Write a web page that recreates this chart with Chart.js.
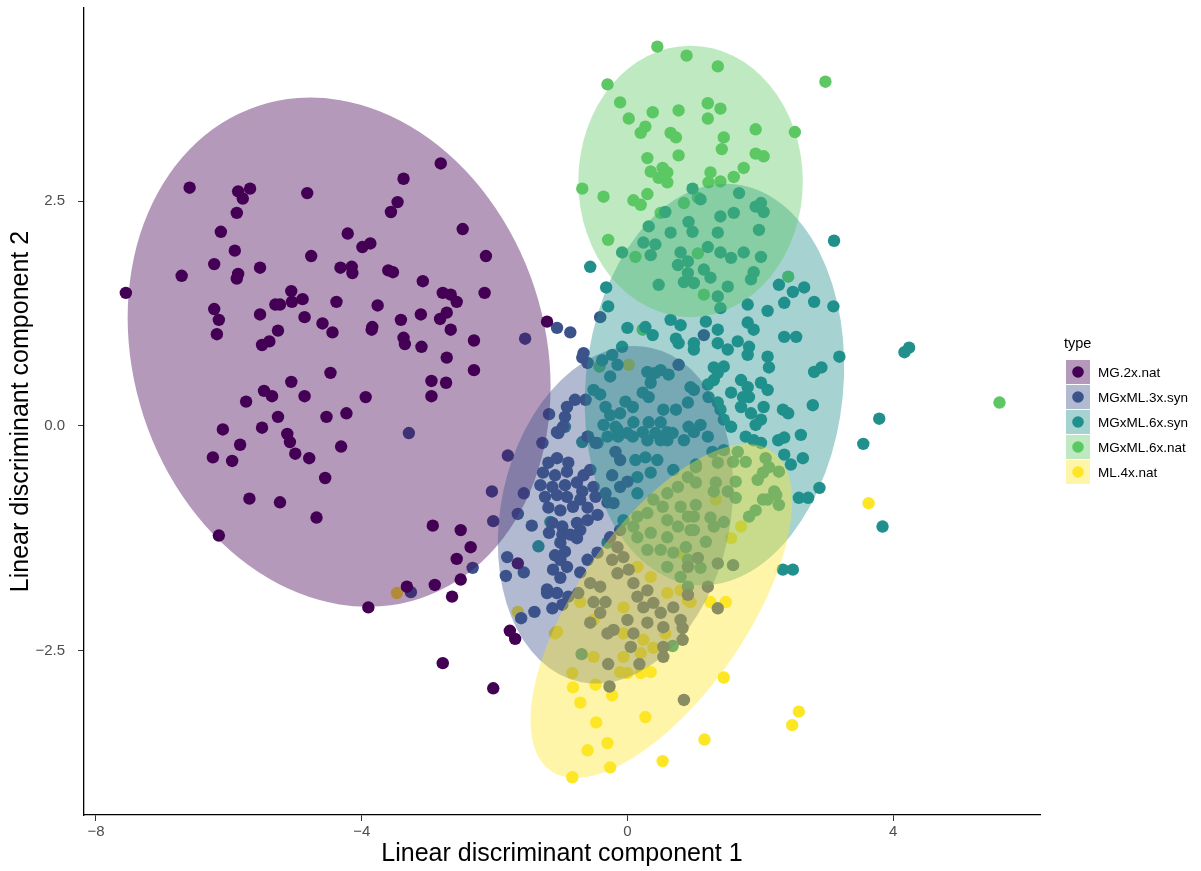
<!DOCTYPE html>
<html>
<head>
<meta charset="utf-8">
<title>LDA</title>
<script src="https://cdn.jsdelivr.net/npm/chart.js@4.4.0/dist/chart.umd.min.js"></script>
<style>
  html, body { margin: 0; padding: 0; background: #fff; }
  #grafico { display: block; }
</style>
</head>
<body>
<canvas id="grafico" width="1201" height="871"></canvas>
<script>
// grupos (legenda "type")
const grupos = ['MG.2x.nat', 'MGxML.3x.syn', 'MGxML.6x.syn', 'MGxML.6x.nat', 'ML.4x.nat'];
const cores = ['#440154', '#3B528B', '#21908C', '#5DC863', '#FDE725'];

// ticks dos eixos
const ticksX = [-8, -4, 0, 4];
const ticksY = [-2.5, 0, 2.5];

// pontos [LD1, LD2]
const mg2xNat = [
  [-6.59,2.65],[-5.86,2.61],[-5.68,2.64],[-5.79,2.53],[-4.82,2.59],[-5.88,2.37],[-6.12,2.16],[-5.91,1.95],
  [-4.76,1.89],[-6.22,1.80],[-6.71,1.67],[-5.53,1.76],[-5.86,1.69],[-5.88,1.64],[-7.55,1.48],[-5.06,1.50],
  [-4.89,1.41],[-5.05,1.38],[-5.30,1.35],[-5.23,1.35],[-6.22,1.30],[-6.15,1.18],[-5.53,1.24],[-4.86,1.21],
  [-4.59,1.14],[-6.18,1.02],[-5.26,1.06],[-5.50,0.90],[-5.39,0.94],[-4.44,1.04],[-4.47,0.59],[-5.06,0.49],
  [-5.47,0.39],[-5.35,0.33],[-5.74,0.27],[-4.86,0.33],[-5.26,0.10],[-4.53,0.10],[-6.09,-0.04],[-5.50,-0.02],
  [-5.12,-0.09],[-5.08,-0.18],[-5.83,-0.21],[-6.24,-0.35],[-5.95,-0.39],[-5.00,-0.31],[-4.79,-0.36],[-4.55,-0.58],
  [-5.69,-0.81],[-5.23,-0.85],[-4.68,-1.02],[-6.15,-1.22],[-2.81,2.92],[-3.37,2.75],[-3.46,2.49],[-3.56,2.38],
  [-4.21,2.14],[-2.48,2.19],[-3.99,1.99],[-3.87,2.03],[-2.13,1.89],[-4.32,1.76],[-4.15,1.77],[-4.14,1.70],
  [-3.60,1.73],[-3.53,1.71],[-3.08,1.61],[-2.15,1.48],[-2.78,1.48],[-2.66,1.46],[-2.57,1.38],[-4.38,1.38],
  [-3.76,1.34],[-2.72,1.26],[-2.82,1.19],[-3.11,1.24],[-3.41,1.18],[-3.84,1.10],[-3.85,1.07],[-2.66,1.07],
  [-3.37,0.98],[-3.35,0.91],[-3.10,0.88],[-2.31,0.95],[-2.72,0.76],[-2.31,0.62],[-2.95,0.50],[-2.73,0.48],
  [-2.95,0.33],[-3.94,0.32],[-4.23,0.14],[-1.21,1.16],[-4.31,-0.23],[-2.93,-1.11],[-2.51,-1.16],[-2.36,-1.35],
  [-2.57,-1.48],[-2.51,-1.71],[-2.90,-1.77],[-3.32,-1.79],[-2.64,-1.90],[-3.90,-2.02],[-1.77,-2.28],[-1.69,-2.37],
  [-2.78,-2.64],[-1.65,-1.53],[-2.02,-2.92]
];

const mgxml3xSyn = [
  [-1.06,1.09],[-1.54,0.97],[-1.18,0.13],[-3.29,-0.08],[-2.33,-1.58],[-3.26,-1.85],[-1.80,-0.33],[-2.04,-0.73],
  [-2.02,-1.06],[-1.56,-0.75],[-1.65,-0.98],[-1.28,-0.19],[-1.06,-0.07],[-1.44,-1.11],[-1.18,-1.19],[-1.81,-1.46],
  [-1.83,-1.67],[-1.56,-1.63],[-1.21,-1.82],[-1.40,-2.07],[-1.60,-2.14],[-1.13,-2.03],[-0.86,1.04],[-0.41,1.21],
  [-0.66,0.81],[-0.68,0.76],[-0.60,0.70],[1.15,1.01],[0.77,0.68],[-0.79,0.29],[-0.63,0.29],[-0.94,0.10],
  [-0.91,0.21],[-1.19,-0.41],[-1.06,-0.36],[-0.89,-0.41],[-0.91,-0.51],[-1.09,-0.55],[-1.27,-0.52],[-1.31,-0.66],
  [-1.13,-0.68],[-0.94,-0.66],[-0.76,-0.63],[-0.66,-0.55],[-0.56,-0.49],[-0.68,-0.73],[-0.51,-0.68],[-0.48,-0.79],
  [-0.33,-0.75],[-0.30,-0.85],[-0.71,-0.82],[-0.91,-0.79],[-1.06,-0.77],[-1.24,-0.79],[-1.19,-0.91],[-1.01,-0.94],
  [-0.82,-0.90],[-0.60,-0.91],[-0.45,-0.99],[-0.60,-1.05],[-0.76,-1.08],[-0.98,-1.12],[-1.13,-1.08],[-0.98,-1.21],
  [-0.86,-1.21],[-0.71,-1.16],[-0.76,-1.25],[-1.01,-1.30],[-0.94,-1.40],[-1.09,-1.44],[-1.01,-1.49],[-1.12,-1.60],
  [-0.91,-1.57],[-1.01,-1.69],[-1.21,-1.86],[-1.06,-1.86],[-0.89,-1.90],[-0.98,-1.99],[-1.04,-0.08],[-0.97,-0.01],
  [-0.60,-0.12],[-0.48,-0.19],[-0.23,-0.55],[-0.21,-0.86],[-0.11,-0.68],[0.00,-0.62],[-0.18,-0.29],[-0.11,-0.38],
  [-0.71,-1.63],[-0.56,-1.75],[-0.74,-1.86],[-0.51,-1.96],[-0.33,-1.96],[-0.41,-1.79],[-0.15,-1.64],[-0.23,-1.49],
  [-0.06,-1.46],[-0.15,-1.35],[-0.26,-1.24],[-0.11,-1.16],[-0.45,-1.41],[-0.60,-1.49],[0.02,-1.60],[0.09,-1.75],
  [0.30,-1.83],[0.15,-1.90],[0.24,-2.02],[0.39,-1.97],[0.50,-2.08],[0.69,-2.02],[0.80,-2.16],[0.54,-2.24],
  [0.30,-2.19],[0.00,-2.16],[-0.21,-2.27],[-0.30,-2.31],[-0.56,-2.19],[-0.41,-2.08],[0.09,-2.31],[1.06,-1.47],
  [1.36,-1.53],[1.59,-1.55],[0.91,-1.57],[1.21,-1.79],[0.91,-1.88],[1.36,-2.03],[0.83,-2.25],[0.83,-2.38],
  [0.05,-2.46],[0.54,-2.46],[-0.29,-2.65],[0.18,-2.65],[0.54,-2.57],[-0.27,-2.90],[0.85,-3.05]
];

const mgxml6xSyn = [
  [4.17,0.82],[4.24,0.87],[3.19,0.77],[3.79,0.08],[3.55,-0.20],[3.84,-1.12],[-1.16,-1.07],[-1.34,-1.34],
  [0.98,2.64],[0.57,2.38],[0.65,2.15],[0.32,2.22],[0.92,2.27],[0.98,2.16],[1.10,2.52],[1.40,2.33],
  [1.60,2.37],[1.68,2.59],[1.93,2.44],[2.01,2.48],[2.05,2.38],[1.98,2.18],[1.36,2.15],[0.24,2.04],
  [3.11,2.06],[0.42,2.02],[0.35,1.90],[-0.08,1.93],[0.80,1.93],[0.91,1.83],[0.76,1.79],[1.21,1.99],
  [1.40,1.93],[1.56,1.87],[1.75,1.93],[2.01,1.88],[0.91,1.70],[1.15,1.74],[1.25,1.65],[0.85,1.60],
  [1.00,1.59],[1.51,1.55],[1.86,1.63],[1.90,1.71],[1.36,1.44],[1.40,1.31],[1.81,1.35],[0.47,1.57],
  [-0.56,1.77],[-0.32,1.54],[-0.29,1.33],[2.28,1.57],[2.49,1.49],[2.66,1.54],[2.36,1.37],[2.81,1.38],
  [3.10,1.33],[2.11,1.28],[1.81,1.15],[1.90,1.07],[1.18,1.16],[1.36,1.07],[0.65,1.18],[0.80,1.12],
  [0.00,1.09],[0.27,1.10],[0.38,1.01],[0.73,0.97],[0.77,0.92],[1.00,0.92],[1.00,0.85],[1.36,0.92],
  [1.51,0.85],[1.66,0.94],[1.83,0.88],[1.81,0.79],[2.11,0.77],[2.13,0.65],[2.36,0.99],[2.54,0.99],
  [2.81,0.60],[2.92,0.65],[2.79,0.23],[2.34,0.18],[2.42,0.14],[2.61,-0.10],[2.27,-0.16],[2.01,0.07],
  [1.90,-0.16],[1.78,-0.12],[-0.08,0.88],[-0.23,0.79],[-0.15,0.68],[-0.26,0.55],[-0.38,0.73],[0.30,0.60],
  [0.42,0.59],[0.50,0.62],[0.62,0.57],[0.35,0.48],[0.23,0.37],[0.32,0.32],[-0.03,0.27],[0.08,0.21],
  [-0.11,0.14],[-0.26,0.12],[-0.33,0.21],[-0.51,0.40],[-0.41,0.35],[-0.36,0.01],[-0.18,-0.01],[0.09,0.04],
  [0.32,0.04],[0.50,0.04],[0.54,0.18],[0.73,0.18],[0.91,0.26],[0.95,0.43],[1.00,0.40],[1.21,0.46],
  [1.30,0.51],[1.36,0.59],[1.30,0.65],[1.45,0.66],[1.22,0.32],[1.36,0.26],[1.40,0.18],[1.56,0.37],
  [1.71,0.51],[1.81,0.43],[1.74,0.32],[1.83,0.32],[2.01,0.48],[2.11,0.40],[1.71,0.21],[1.86,0.14],
  [2.05,0.21],[1.45,0.07],[1.56,-0.01],[1.10,0.01],[1.00,-0.07],[1.21,-0.12],[0.60,-0.07],[0.42,-0.08],
  [0.23,-0.07],[0.00,-0.08],[-0.14,-0.12],[0.60,-0.16],[-0.59,-0.12],[-0.45,-0.19],[-0.68,-0.18],[-0.94,-0.01],
  [-0.30,-0.12],[-0.15,-0.04],[0.15,-0.57],[0.35,-0.52],[0.12,-0.38],[0.27,-0.35],[0.45,-0.38],[0.50,-0.16],
  [0.68,-0.08],[0.85,-0.16],[0.92,-0.01],[0.30,-0.16],[0.08,-0.12],[0.15,-0.75],[-0.06,-1.05],[0.15,-1.01],
  [0.30,-0.97],[0.39,-0.82],[0.60,-0.75],[0.76,-0.68],[0.91,-0.57],[1.03,-0.46],[0.69,-0.49],[0.80,-0.90],
  [0.60,-1.05],[0.76,-1.12],[0.91,-1.01],[1.00,-1.16],[0.60,-1.24],[0.35,-1.19],[0.15,-1.24],[0.30,-1.38],
  [0.50,-1.38],[0.69,-1.41],[0.91,-1.49],[0.60,-1.57],[0.80,-1.68],[0.91,-1.79],[0.53,-0.90],[0.09,-1.12],
  [-0.30,-1.30],[2.01,-0.19],[2.36,-0.13],[2.36,-0.32],[2.46,-0.43],[2.64,-0.36],[2.89,-0.69],[2.58,-0.80],
  [2.72,-0.80],[1.93,0.01],[2.34,-1.60],[2.49,-1.60],[1.28,-0.29],[1.45,-0.27],[1.66,-0.29],[1.78,-0.40],
  [1.59,-0.40],[1.36,-0.41],[1.03,-0.43],[2.08,-0.36],[2.13,-0.46],[2.04,-0.52],[2.28,-0.51],[1.96,-0.60],
  [1.63,-0.62],[1.33,-0.63],[1.03,-0.63],[1.30,-0.73],[1.51,-0.73],[1.63,-0.80],[2.21,-0.73],[2.24,-0.77],
  [2.11,-0.82],[2.04,-0.82],[2.28,-0.88],[1.93,-0.94],[1.83,-1.01],[1.03,-0.88],[1.00,-1.01],[1.25,-1.02],
  [1.45,-1.07],[1.30,-1.12],[0.95,-1.16],[1.18,-1.29],[0.88,-1.35],[1.10,-1.58],[-0.69,-2.54],[0.68,-2.45]
];

const mgxml6xNat = [
  [0.45,4.22],[0.89,4.12],[1.36,4.00],[2.98,3.83],[-0.30,3.80],[-0.11,3.60],[0.38,3.49],[0.77,3.51],
  [1.21,3.59],[1.40,3.53],[1.21,3.42],[0.02,3.42],[1.93,3.30],[2.52,3.27],[0.27,3.33],[0.20,3.26],
  [0.65,3.26],[0.73,3.21],[1.45,3.21],[1.42,3.08],[0.77,3.01],[0.30,2.98],[1.93,3.03],[2.05,3.00],
  [0.35,2.83],[0.53,2.87],[0.60,2.82],[0.47,2.76],[0.60,2.71],[1.25,2.82],[1.22,2.71],[1.40,2.72],
  [1.60,2.77],[1.75,2.87],[-0.68,2.64],[-0.36,2.55],[0.09,2.51],[0.30,2.58],[0.20,2.46],[0.50,2.37],
  [-0.29,2.07],[0.85,2.48],[1.06,2.54],[0.12,1.88],[1.06,1.92],[1.15,1.46],[0.23,1.07],[2.42,1.66],
  [-0.42,0.66],[5.60,0.26]
];

const ml4xNat = [
  [3.63,-0.86],[-3.47,-1.86],[-1.65,-2.07],[-1.09,-2.31],[0.02,0.68],[0.15,-1.57],[0.35,-1.68],[0.80,-1.41],
  [0.60,-1.86],[-0.06,-2.02],[-0.51,-2.16],[-0.71,-1.96],[-1.06,-2.29],[-0.06,-2.31],[0.24,-2.38],[0.80,-1.83],
  [0.91,-1.94],[0.57,-2.31],[1.33,-0.82],[1.71,-1.12],[1.56,-1.25],[1.48,-1.96],[1.25,-1.96],[0.95,-1.96],
  [-0.83,-2.75],[-0.82,-2.91],[-0.48,-2.88],[-0.23,-3.00],[-0.71,-3.08],[0.27,-3.24],[-0.47,-3.30],[-0.30,-3.53],
  [-0.60,-3.61],[-0.26,-3.80],[0.53,-3.73],[1.16,-3.49],[1.45,-2.80],[2.58,-3.18],[2.48,-3.33],[-0.83,-3.91],
  [-0.51,-2.57],[-0.06,-2.57],[0.20,-2.53],[0.39,-2.47],[0.00,-2.75],[0.20,-2.75],[0.35,-2.74],[-0.11,-2.74]
];

// elipses (stat_ellipse): centro e semi-eixos em unidades dos dados
const centros = [[-4.34, 0.82], [-0.18, -0.99], [1.31, 0.46], [0.95, 2.72], [0.51, -2.06]];
const eixoA = [[-1.22, 2.74], [0.53, 1.86], [0.30, 2.23], [0.00, 1.51], [1.66, 1.78]];
const eixoB = [[2.94, 0.72], [1.69, -0.26], [1.93, -0.14], [1.69, 0.00], [1.06, -0.53]];

const series = [mg2xNat, mgxml3xSyn, mgxml6xSyn, mgxml6xNat, ml4xNat];

function comAlfa(hex, a) {
    const r = parseInt(hex.slice(1, 3), 16);
    const g = parseInt(hex.slice(3, 5), 16);
    const b = parseInt(hex.slice(5, 7), 16);
    return `rgba(${r},${g},${b},${a})`;
}

const fonte = "'Liberation Sans', Arial, Helvetica, sans-serif";
const menos = v => String(v).replace('-', '\u2212');

// elipses por cima dos pontos (como no ggplot)
const pluginElipses = {
    id: 'elipses',
    afterDatasetsDraw(chart) {
        const { ctx, chartArea, scales } = chart;
        const x = scales.x, y = scales.y;
        ctx.save();
        ctx.beginPath();
        ctx.rect(chartArea.left, chartArea.top, chartArea.width, chartArea.height);
        ctx.clip();
        for (let i = 0; i < grupos.length; i++) {
            const cx = centros[i][0], cy = centros[i][1];
            const px = x.getPixelForValue(cx), py = y.getPixelForValue(cy);
            const ux = x.getPixelForValue(cx + eixoA[i][0]) - px;
            const uy = y.getPixelForValue(cy + eixoA[i][1]) - py;
            const vx = x.getPixelForValue(cx + eixoB[i][0]) - px;
            const vy = y.getPixelForValue(cy + eixoB[i][1]) - py;
            ctx.save();
            ctx.translate(px, py);
            ctx.transform(ux, uy, vx, vy, 0, 0);
            ctx.beginPath();
            ctx.arc(0, 0, 1, 0, Math.PI * 2);
            ctx.restore();
            ctx.fillStyle = comAlfa(cores[i], 0.4);
            ctx.fill();
        }
        ctx.restore();
    }
};

// legenda no estilo ggplot
const pluginLegenda = {
    id: 'legendaType',
    afterDraw(chart) {
        const ctx = chart.ctx;
        const x0 = chart.chartArea.right + 26;
        const y0 = 360;
        const lado = 24;
        const passo = 25;
        ctx.save();
        ctx.fillStyle = '#000';
        ctx.font = `14.5px ${fonte}`;
        ctx.textBaseline = 'middle';
        ctx.textAlign = 'left';
        ctx.fillText('type', x0 - 2, y0 - 16);
        for (let i = 0; i < grupos.length; i++) {
            const ky = y0 + i * passo;
            ctx.fillStyle = cores[i];
            ctx.beginPath();
            ctx.arc(x0 + lado / 2, ky + lado / 2, 5.8, 0, Math.PI * 2);
            ctx.fill();
            ctx.fillStyle = comAlfa(cores[i], 0.4);
            ctx.fillRect(x0, ky, lado, lado);
            ctx.fillStyle = '#000';
            ctx.font = `13.5px ${fonte}`;
            ctx.fillText(grupos[i], x0 + lado + 8, ky + lado / 2 + 1);
        }
        ctx.restore();
    }
};

const datasets = [];
for (let i = 0; i < grupos.length; i++) {
    datasets.push({
        label: grupos[i],
        data: series[i].map(p => ({ x: p[0], y: p[1] })),
        backgroundColor: cores[i],
        borderWidth: 0,
        pointRadius: 6.2,
        pointHoverRadius: 6.2
    });
}

new Chart(document.getElementById('grafico'), {
    type: 'scatter',
    data: { datasets: datasets },
    options: {
        responsive: false,
        animation: false,
        layout: { padding: { top: 8, right: 161, bottom: 0, left: 0 } },
        plugins: {
            legend: { display: false },
            tooltip: { enabled: false }
        },
        scales: {
            x: {
                type: 'linear',
                min: -8.18,
                max: 6.21,
                afterBuildTicks: s => { s.ticks = ticksX.map(v => ({ value: v })); },
                afterFit: s => { s.height = 56; s.paddingLeft = 0; s.paddingRight = 0; },
                ticks: {
                    callback: v => menos(v),
                    color: '#4d4d4d',
                    font: { family: fonte, size: 15 },
                    padding: 2
                },
                grid: { drawOnChartArea: false, drawTicks: true, tickLength: 6, color: '#333' },
                border: { display: true, color: '#000', width: 1.3 },
                title: {
                    display: true,
                    text: 'Linear discriminant component 1',
                    color: '#000',
                    font: { family: fonte, size: 25 },
                    padding: { top: 2, bottom: 2 }
                }
            },
            y: {
                type: 'linear',
                min: -4.33,
                max: 4.65,
                afterBuildTicks: s => { s.ticks = ticksY.map(v => ({ value: v })); },
                afterFit: s => { s.width = 84; s.paddingTop = 0; s.paddingBottom = 0; },
                ticks: {
                    callback: v => menos(v.toFixed(1)),
                    color: '#4d4d4d',
                    font: { family: fonte, size: 15 },
                    padding: 13
                },
                grid: { drawOnChartArea: false, drawTicks: true, tickLength: 6, color: '#333' },
                border: { display: true, color: '#000', width: 1.3 },
                title: {
                    display: true,
                    text: 'Linear discriminant component 2',
                    color: '#000',
                    font: { family: fonte, size: 25 },
                    padding: { top: 6, bottom: 2 }
                }
            }
        }
    },
    plugins: [pluginElipses, pluginLegenda]
});
</script>
</body>
</html>
